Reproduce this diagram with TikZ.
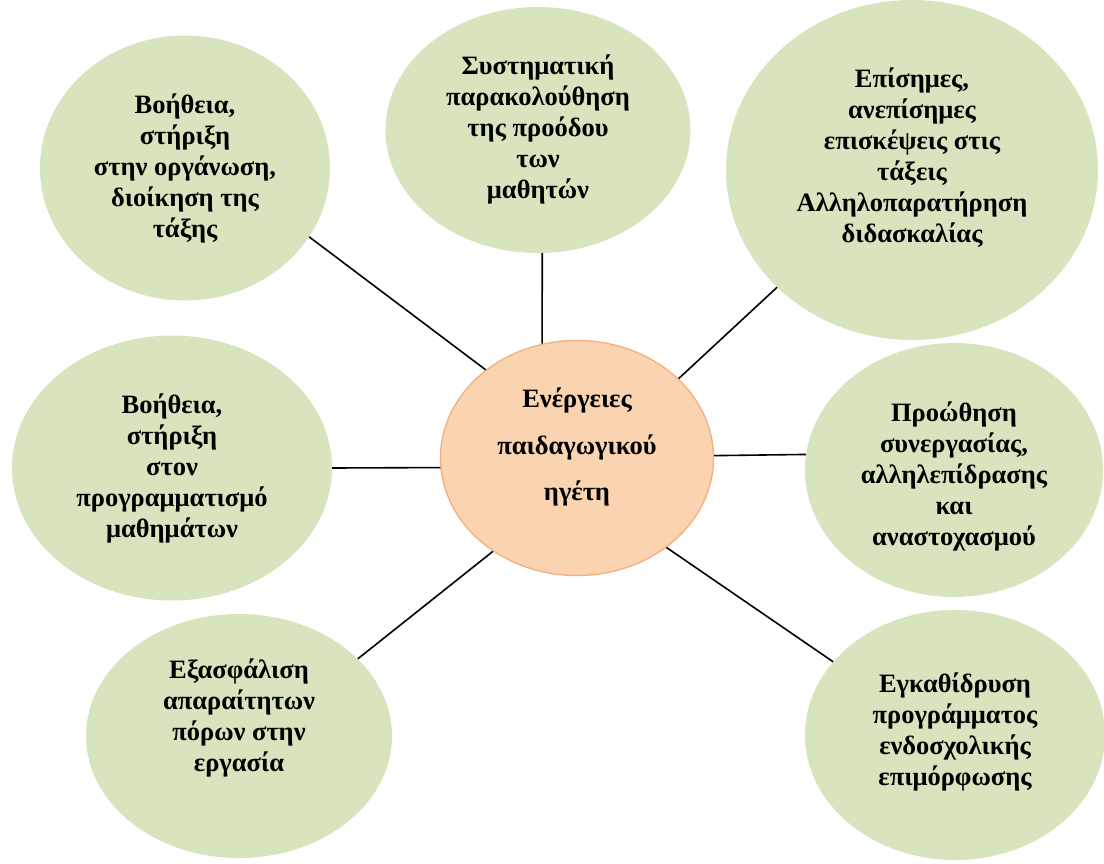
\documentclass[tikz,border=0pt]{standalone}
\usepackage{fontspec}
\setmainfont{Liberation Serif}
\usetikzlibrary{shapes.geometric}
\definecolor{leaf}{HTML}{D7E4BD}
\definecolor{peach}{HTML}{FAD3B1}
\definecolor{peachline}{HTML}{F4B183}

\begin{document}
\begin{tikzpicture}[x=1pt,y=-1pt,font=\bfseries\fontsize{26.5}{31}\selectfont,
 bubble/.style={ellipse,fill=leaf,inner sep=0pt},
 txt/.style={align=center,inner sep=0pt},
 spoke/.style={line width=1.6pt}]
\useasboundingbox (0,0) rectangle (1104,863);
% hub
\node[ellipse,fill=peach,draw=peachline,line width=1.4pt,minimum width=273,minimum height=235] (hub) at (577,458) {};
\node[txt,font=\bfseries\fontsize{26.5}{46.5}\selectfont] (hub-text) at (577,447) {Ενέργειες\\παιδαγωγικού\\ηγέτη};
% the seven bubbles around it
\node[bubble,minimum width=290,minimum height=265] (tl) at (185,168) {};
\node[bubble,minimum width=305,minimum height=246] (tm) at (538,130) {};
\node[bubble,minimum width=372,minimum height=340] (tr) at (912,170) {};
\node[bubble,minimum width=320,minimum height=265] (ml) at (172,468) {};
\node[bubble,minimum width=298,minimum height=254] (mr) at (954,470) {};
\node[bubble,minimum width=306,minimum height=244] (bl) at (239,736) {};
\node[bubble,minimum width=300,minimum height=250] (br) at (955,735) {};
\node[txt] (tl-text) at (185,168) {Βοήθεια,\\στήριξη\\στην οργάνωση,\\διοίκηση της\\τάξης};
\node[txt] (tm-text) at (538,129) {Συστηματική\\παρακολούθηση\\της προόδου\\των\\μαθητών};
\node[txt] (tr-text) at (912,158) {Επίσημες,\\ανεπίσημες\\επισκέψεις στις\\τάξεις\\Αλληλοπαρατήρηση\\διδασκαλίας};
\node[txt] (ml-text) at (172,468) {Βοήθεια,\\στήριξη\\στον\\προγραμματισμό\\μαθημάτων};
\node[txt] (mr-text) at (954,476) {Προώθηση\\συνεργασίας,\\αλληλεπίδρασης\\και\\αναστοχασμού};
\node[txt] (bl-text) at (239,718) {Εξασφάλιση\\απαραίτητων\\πόρων στην\\εργασία};
\node[txt] (br-text) at (955,732) {Εγκαθίδρυση\\προγράμματος\\ενδοσχολικής\\επιμόρφωσης};
% spokes
\draw[spoke] (tl.-29) -- (hub.136);
\draw[spoke] (tm.-88) -- (hub.107);
\draw[spoke] (tr.221) -- (hub.38);
\draw[spoke] (ml.0) -- (hub.184);
\draw[spoke] (mr.174) -- (hub.1);
\draw[spoke] (bl.33) -- (hub.228);
\draw[spoke] (br.149) -- (hub.-45);
\end{tikzpicture}
\end{document}
